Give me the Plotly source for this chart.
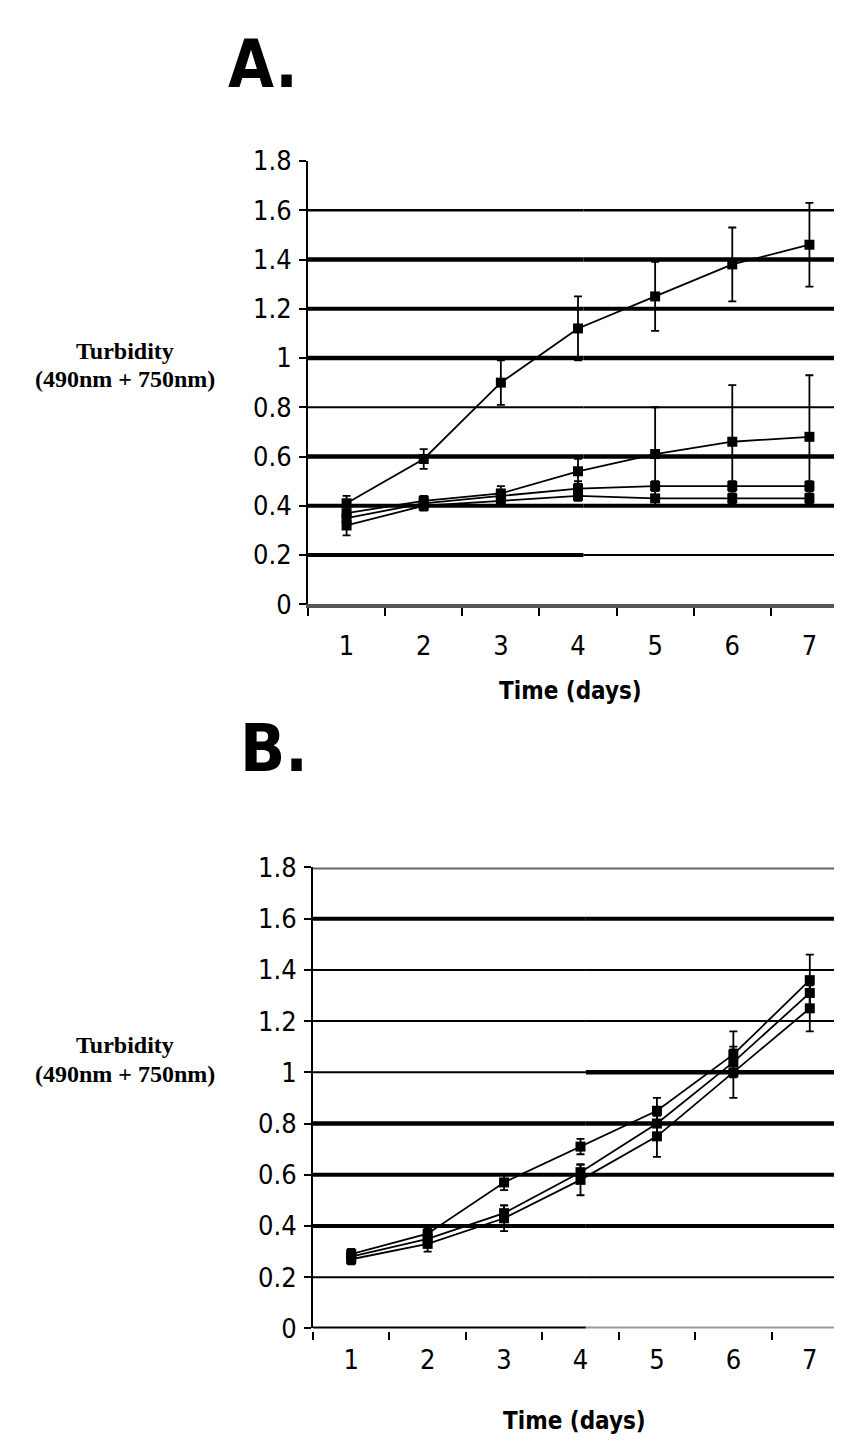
import plotly.graph_objects as go

# ---------------- data ----------------
days = ["1", "2", "3", "4", "5", "6", "7"]
y_tick_vals = [0, 0.2, 0.4, 0.6, 0.8, 1.0, 1.2, 1.4, 1.6, 1.8]
y_tick_text = ["0", "0.2", "0.4", "0.6", "0.8", "1", "1.2", "1.4", "1.6", "1.8"]

# Panel A
a_s1 = [0.41, 0.59, 0.90, 1.12, 1.25, 1.38, 1.46]
a_s1_err = [0.03, 0.04, 0.09, 0.13, 0.14, 0.15, 0.17]
a_s2 = [0.37, 0.42, 0.45, 0.54, 0.61, 0.66, 0.68]
a_s2_err = [0.03, 0.02, 0.03, 0.05, 0.19, 0.23, 0.25]
a_s3 = [0.35, 0.41, 0.44, 0.47, 0.48, 0.48, 0.48]
a_s3_err = [0.03, 0.02, 0.02, 0.03, 0.02, 0.02, 0.02]
a_s4 = [0.32, 0.40, 0.42, 0.44, 0.43, 0.43, 0.43]
a_s4_err = [0.04, 0.02, 0.02, 0.02, 0.03, 0.02, 0.02]

# Panel B
b_s1 = [0.29, 0.37, 0.57, 0.71, 0.85, 1.07, 1.36]
b_s1_err = [0.02, 0.02, 0.03, 0.03, 0.05, 0.09, 0.10]
b_s2 = [0.28, 0.35, 0.45, 0.61, 0.80, 1.04, 1.31]
b_s2_err = [0.02, 0.02, 0.03, 0.03, 0.04, 0.05, 0.06]
b_s3 = [0.27, 0.33, 0.43, 0.58, 0.75, 1.00, 1.25]
b_s3_err = [0.02, 0.03, 0.05, 0.06, 0.08, 0.10, 0.09]

# ---------------- styles ----------------
W, H = 842, 1444
NARROW = "DejaVu Sans Condensed, Liberation Sans Narrow, sans-serif"
TICK_FONT = dict(family=NARROW, size=27, color="black")
SERIF = "Liberation Serif, DejaVu Serif, serif"

# gridline widths (left half, right half) and colours for each tick value
grid_a = {0.2: (4, 2, "black", "black"), 0.4: (4, 4, "black", "black"), 0.6: (4.5, 4.5, "black", "black"),
          0.8: (2, 2, "black", "black"), 1.0: (4.5, 4.5, "black", "black"), 1.2: (4, 4, "black", "black"),
          1.4: (4.5, 4.5, "black", "black"), 1.6: (2.5, 2.5, "black", "black")}
grid_b = {0.2: (2, 2, "black", "black"), 0.4: (4, 4, "black", "black"), 0.6: (4, 4, "black", "black"),
          0.8: (4.5, 4.5, "black", "black"), 1.0: (2, 4.5, "black", "black"), 1.2: (2, 2, "black", "black"),
          1.4: (2, 2, "black", "black"), 1.6: (4, 4, "black", "black"), 1.8: (4, 4, "#666", "#666"),
          0: (4, 4, "black", "#999")}
SPLIT = 0.51


def px_x(p):
    return p / W


def px_y(p):
    return 1 - p / H


fig = go.Figure()


def add_series(vals, errs, xa, ya):
    fig.add_trace(go.Scatter(
        x=days, y=vals, xaxis=xa, yaxis=ya, mode="lines+markers",
        line=dict(color="black", width=1.8),
        marker=dict(symbol="square", size=10, color="black"),
        error_y=dict(type="data", array=errs, color="black", thickness=1.8, width=4),
        showlegend=False, cliponaxis=False))


for v, e in [(a_s4, a_s4_err), (a_s3, a_s3_err), (a_s2, a_s2_err), (a_s1, a_s1_err)]:
    add_series(v, e, "x", "y")
for v, e in [(b_s3, b_s3_err), (b_s2, b_s2_err), (b_s1, b_s1_err)]:
    add_series(v, e, "x2", "y2")

shapes = []
for grid, xr, yr in [(grid_a, "x domain", "y"), (grid_b, "x2 domain", "y2")]:
    for val in y_tick_vals:
        if val not in grid:
            continue
        wl, wr, cl, cr = grid[val]
        shapes.append(dict(type="line", xref=xr, yref=yr, x0=0, x1=SPLIT, y0=val, y1=val,
                           line=dict(color=cl, width=wl), layer="below"))
        shapes.append(dict(type="line", xref=xr, yref=yr, x0=SPLIT, x1=1, y0=val, y1=val,
                           line=dict(color=cr, width=wr), layer="below"))

xcommon = dict(type="category", categoryorder="array", categoryarray=days,
               range=[-0.5, 6.5], showgrid=False, ticks="outside", tickson="boundaries",
               ticklen=8, tickwidth=2, tickcolor="black", tickfont=TICK_FONT,
               showline=True, linewidth=4, zeroline=False)
ycommon = dict(range=[0, 1.8], tickvals=y_tick_vals, ticktext=y_tick_text, showgrid=False,
               zeroline=False, ticks="outside", ticklen=7, tickwidth=2, tickcolor="black",
               tickfont=TICK_FONT, showline=True, linecolor="black", linewidth=2,
               ticklabelstandoff=2)

fig.update_layout(
    width=W, height=H, margin=dict(l=0, r=0, t=0, b=0),
    paper_bgcolor="white", plot_bgcolor="white",
    xaxis=dict(domain=[px_x(300), px_x(840)], anchor="y", linecolor="#555",
               ticklabelstandoff=14, **xcommon),
    yaxis=dict(domain=[px_y(593), px_y(140)], anchor="x", **ycommon),
    xaxis2=dict(domain=[px_x(305), px_x(840)], anchor="y2", linecolor="rgba(0,0,0,0)",
                ticklabelstandoff=4, **xcommon),
    yaxis2=dict(domain=[px_y(1333), px_y(862)], anchor="x2", **ycommon),
    shapes=shapes,
)

annotations = [
    dict(text="<b>A.</b>", x=px_x(255), y=1.0, yanchor="top", font=dict(family=NARROW, size=66, color="black")),
    dict(text="<b>B.</b>", x=px_x(266), y=px_y(740), font=dict(family=NARROW, size=66, color="black")),
    dict(text="<b>Time (days)</b>", x=px_x(562), y=px_y(682), font=dict(family=NARROW, size=24, color="black")),
    dict(text="<b>Time (days)</b>", x=px_x(566), y=px_y(1428), font=dict(family=NARROW, size=24, color="black")),
    dict(text="<b>Turbidity</b>", x=px_x(117), y=px_y(334), font=dict(family=SERIF, size=24, color="black")),
    dict(text="<b>(490nm + 750nm)</b>", x=px_x(117), y=px_y(363), font=dict(family=SERIF, size=24, color="black")),
    dict(text="<b>Turbidity</b>", x=px_x(117), y=px_y(1043), font=dict(family=SERIF, size=24, color="black")),
    dict(text="<b>(490nm + 750nm)</b>", x=px_x(117), y=px_y(1073), font=dict(family=SERIF, size=24, color="black")),
]
for a in annotations:
    a.setdefault("yanchor", "middle")
    a.update(xref="paper", yref="paper", showarrow=False, xanchor="center")
fig.update_layout(annotations=annotations)

fig.write_html("out.html")
